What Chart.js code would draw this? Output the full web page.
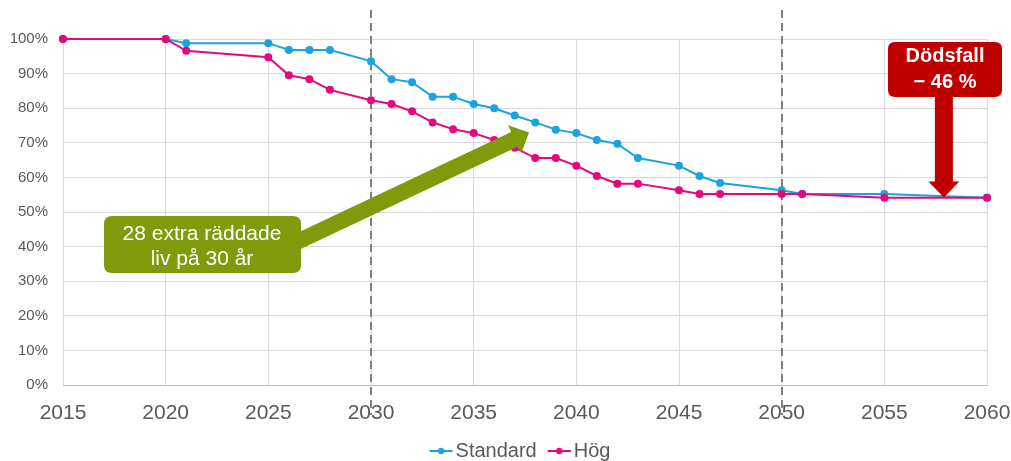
<!DOCTYPE html>
<html>
<head>
<meta charset="utf-8">
<script src="https://cdn.jsdelivr.net/npm/chart.js@4/dist/chart.umd.min.js"></script>
<style>
  html, body { margin: 0; padding: 0; background: #ffffff; }
  #wrap { width: 1011px; height: 461px; position: relative; }
</style>
</head>
<body>
<div id="wrap"><canvas id="c" width="1011" height="461"></canvas></div>
<script>
// Survival share by year (%), two scenarios
const years = [2015, 2020, 2021, 2025, 2026, 2027, 2028, 2030, 2031, 2032, 2033, 2034, 2035, 2036, 2037, 2038, 2039, 2040, 2041, 2042, 2043, 2045, 2046, 2047, 2050, 2051, 2055, 2060];
const standard = [100, 100, 98.8, 98.8, 96.8, 96.8, 96.8, 93.6, 88.4, 87.5, 83.3, 83.3, 81.2, 80.0, 77.9, 75.9, 73.8, 72.8, 70.8, 69.7, 65.6, 63.4, 60.4, 58.4, 56.3, 55.2, 55.2, 54.1];
const hog = [100, 100, 96.6, 94.7, 89.5, 88.4, 85.3, 82.3, 81.2, 79.1, 75.9, 73.9, 72.8, 70.8, 68.6, 65.6, 65.6, 63.4, 60.4, 58.2, 58.2, 56.3, 55.2, 55.2, 55.2, 55.2, 54.1, 54.1];
const seriesNames = ['Standard', 'Hög'];
const xTicks = [2015, 2020, 2025, 2030, 2035, 2040, 2045, 2050, 2055, 2060];
const markerYears = [2030, 2050];
const greenNote = ['28 extra räddade', 'liv på 30 år'];
const redNote = ['Dödsfall', '− 46 %'];

const BLUE = '#1ba3df';
const PINK = '#e5087d';
const GREEN = '#7f9a0a';
const RED = '#c00000';
const FONT = '"Liberation Sans", Arial, sans-serif';
const LEGEND_FONT = 20;
const ICON_W = 23;

// Legend icon: short line with a dot; the canvas is padded on the left so the
// drawn icon sits right next to its label text.
function legendIcon(color) {
  const w = ICON_W + LEGEND_FONT - 4;
  const c = document.createElement('canvas');
  c.width = w; c.height = 10;
  const g = c.getContext('2d');
  const x0 = w - ICON_W - 1;
  g.strokeStyle = color; g.lineWidth = 2;
  g.beginPath(); g.moveTo(x0, 5); g.lineTo(x0 + ICON_W, 5); g.stroke();
  g.fillStyle = color;
  g.beginPath(); g.arc(x0 + ICON_W / 2, 5, 3.2, 0, Math.PI * 2); g.fill();
  return c;
}

function roundRect(ctx, x, y, w, h, r) {
  ctx.beginPath();
  ctx.moveTo(x + r, y);
  ctx.lineTo(x + w - r, y);
  ctx.quadraticCurveTo(x + w, y, x + w, y + r);
  ctx.lineTo(x + w, y + h - r);
  ctx.quadraticCurveTo(x + w, y + h, x + w - r, y + h);
  ctx.lineTo(x + r, y + h);
  ctx.quadraticCurveTo(x, y + h, x, y + h - r);
  ctx.lineTo(x, y + r);
  ctx.quadraticCurveTo(x, y, x + r, y);
  ctx.closePath();
}

// Block arrow from (x0,y0) to tip (x1,y1)
function blockArrow(ctx, x0, y0, x1, y1, shaftW, headW, headL, color) {
  const ang = Math.atan2(y1 - y0, x1 - x0);
  const len = Math.hypot(x1 - x0, y1 - y0);
  ctx.save();
  ctx.translate(x0, y0);
  ctx.rotate(ang);
  ctx.fillStyle = color;
  ctx.beginPath();
  ctx.moveTo(0, -shaftW / 2);
  ctx.lineTo(len - headL, -shaftW / 2);
  ctx.lineTo(len - headL, -headW / 2);
  ctx.lineTo(len, 0);
  ctx.lineTo(len - headL, headW / 2);
  ctx.lineTo(len - headL, shaftW / 2);
  ctx.lineTo(0, shaftW / 2);
  ctx.closePath();
  ctx.fill();
  ctx.restore();
}

// Centre the legend under the plot area rather than the whole canvas
const legendShift = {
  id: 'legendShift',
  afterLayout(chart) {
    if (chart.legend) { chart.legend.left += 23; chart.legend.right += 23; }
  }
};

const markerLines = {
  id: 'markerLines',
  beforeDatasetsDraw(chart) {
    const { ctx, scales: { x }, chartArea } = chart;
    ctx.save();
    ctx.strokeStyle = '#7f7f7f';
    ctx.lineWidth = 2;
    ctx.setLineDash([8, 5]);
    markerYears.forEach(yr => {
      const px = Math.round(x.getPixelForValue(yr));
      ctx.beginPath();
      ctx.moveTo(px, chartArea.top - 29);
      ctx.lineTo(px, chartArea.bottom + 30);
      ctx.stroke();
    });
    ctx.restore();
  }
};

const notes = {
  id: 'notes',
  afterDatasetsDraw(chart) {
    const { ctx, scales: { x, y } } = chart;
    ctx.save();
    // green arrow pointing at the gap between the curves
    const gx = x.getPixelForValue(2037.7), gy = y.getPixelForValue(73.0);
    blockArrow(ctx, 265, 257, gx, gy, 16, 31, 16, GREEN);
    roundRect(ctx, 104, 216, 197, 57, 8);
    ctx.fillStyle = GREEN; ctx.fill();
    ctx.fillStyle = '#ffffff';
    ctx.font = '21px ' + FONT;
    ctx.textAlign = 'center'; ctx.textBaseline = 'middle';
    ctx.fillText(greenNote[0], 202, 234);
    ctx.fillText(greenNote[1], 202, 259);

    // red arrow down to the final level
    const rx = x.getPixelForValue(2057.9), ry = y.getPixelForValue(54.2);
    blockArrow(ctx, rx, 80, rx, ry, 18, 31, 16, RED);
    roundRect(ctx, 888, 42, 114, 55, 7);
    ctx.fillStyle = RED; ctx.fill();
    ctx.fillStyle = '#ffffff';
    ctx.font = 'bold 20px ' + FONT;
    ctx.fillText(redNote[0], 945, 56);
    ctx.fillText(redNote[1], 945, 82);
    ctx.restore();
  }
};

const mk = (vals) => years.map((yr, i) => ({ x: yr, y: vals[i] }));

new Chart(document.getElementById('c'), {
  type: 'line',
  data: {
    datasets: [
      { label: seriesNames[0], data: mk(standard), borderColor: BLUE, backgroundColor: BLUE,
        borderWidth: 2, pointRadius: 4, pointHoverRadius: 4, pointBorderWidth: 0, order: 1, tension: 0, clip: false },
      { label: seriesNames[1], data: mk(hog), borderColor: PINK, backgroundColor: PINK,
        borderWidth: 2, pointRadius: 4, pointHoverRadius: 4, pointBorderWidth: 0, order: 0, tension: 0, clip: false }
    ]
  },
  options: {
    responsive: false,
    animation: false,
    events: [],
    layout: { padding: { top: 39, right: 24, left: 0, bottom: -10 } },
    plugins: {
      tooltip: { enabled: false },
      legend: {
        position: 'bottom',
        labels: {
          font: { family: FONT, size: LEGEND_FONT },
          color: '#595959',
          usePointStyle: true,
          pointStyleWidth: ICON_W,
          boxHeight: 10,
          padding: 4,
          generateLabels(chart) {
            return chart.data.datasets.map((ds, i) => ({
              text: ds.label,
              pointStyle: legendIcon(ds.borderColor),
              fillStyle: 'rgba(0,0,0,0)',
              strokeStyle: 'rgba(0,0,0,0)',
              lineWidth: 0,
              fontColor: '#595959',
              datasetIndex: i,
              hidden: false
            }));
          }
        }
      }
    },
    scales: {
      x: {
        type: 'linear',
        min: 2015, max: 2060,
        afterBuildTicks(scale) { scale.ticks = xTicks.map(v => ({ value: v })); },
        afterFit(scale) { scale.height = 52; scale.paddingLeft = 0; scale.paddingRight = 0; },
        ticks: { font: { family: FONT, size: 21 }, color: '#595959', padding: 16, callback: v => String(v), maxRotation: 0 },
        grid: { color: '#d9d9d9', lineWidth: 1, drawTicks: false },
        border: { color: '#bfbfbf', width: 1 }
      },
      y: {
        min: 0, max: 100,
        afterFit(scale) { scale.width = 63; },
        ticks: { stepSize: 10, font: { family: FONT, size: 15 }, color: '#595959', padding: 15, callback: v => v + '%' },
        grid: { color: '#d9d9d9', lineWidth: 1, drawTicks: false },
        border: { display: false }
      }
    }
  },
  plugins: [legendShift, markerLines, notes]
});
</script>
</body>
</html>
